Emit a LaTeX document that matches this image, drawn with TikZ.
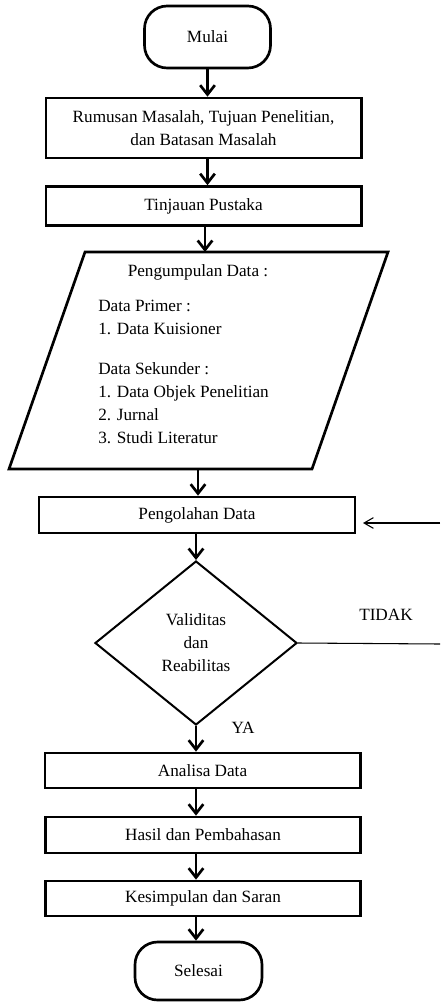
\documentclass[tikz,border=0pt]{standalone}
\usepackage{fontspec}
\setmainfont{Liberation Serif}
\usetikzlibrary{shapes.geometric}
\usetikzlibrary{arrows.meta}

\begin{document}
\begin{tikzpicture}[x=0.75pt,y=-0.75pt,
font=\fontsize{12.9}{17.2}\selectfont,
proses/.style={draw, line width=2pt, minimum width=236.5pt, inner sep=0pt, align=center},
terminal/.style={draw, line width=2pt, rounded corners=17pt, inner sep=0pt},
keputusan/.style={draw, diamond, line width=1.5pt, minimum width=151.5pt, minimum height=123pt, inner sep=0pt, align=center},
alur/.style={-{Straight Barb[length=7pt,width=11pt]}, line width=2pt},
balik/.style={-{Straight Barb[length=7pt,width=8pt]}, line width=0.8pt}]
\useasboundingbox (0,0) rectangle (440,1002);

\node[terminal, minimum width=94.5pt, minimum height=46.5pt] (mulai) at (207.5,37) {Mulai};
\node[proses, minimum height=45pt] (rumusan) at (203.5,128) {Rumusan Masalah, Tujuan Penelitian,\\dan Batasan Masalah};
\node[proses, minimum height=29.25pt] (tinjauan) at (203.5,206) {Tinjauan Pustaka};

% input data
\draw[line width=2pt] (85,252) -- (388,252) -- (312,469) -- (9,469) -- cycle;
\coordinate (patas) at (205,252);
\coordinate (pbawah) at (198,469);
\node (pengumpulan) at (198,272) {Pengumpulan Data :};
\node[align=left, anchor=north west, inner sep=0pt] (sumber) at (98,300) {Data Primer :\\1. Data Kuisioner\\[12.75pt]Data Sekunder :\\1. Data Objek Penelitian\\2. Jurnal\\3. Studi Literatur};

\node[proses, minimum width=237pt, minimum height=27pt] (pengolahan) at (197,515) {Pengolahan Data};
\node[keputusan] (validitas) at (196,643) {Validitas\\dan\\Reabilitas};
\node[proses, minimum height=26.25pt] (analisa) at (202.5,770.5) {Analisa Data};
\node[proses, minimum height=27pt] (hasil) at (203,835) {Hasil dan Pembahasan};
\node[proses, minimum height=26.25pt] (kesimpulan) at (203,898.5) {Kesimpulan dan Saran};
\node[terminal, minimum width=95.25pt, minimum height=43.5pt] (selesai) at (198.5,971) {Selesai};

\draw[alur] (mulai) -- (mulai |- rumusan.north);
\draw[alur] (mulai |- rumusan.south) -- (mulai |- tinjauan.north);
\draw[alur] (patas |- tinjauan.south) -- (patas);
\draw[alur] (pbawah) -- (pbawah |- pengolahan.north);
\draw[alur] (pengolahan.south -| validitas.north) -- (validitas.north);
\draw[alur] (validitas.south) -- (validitas.south |- analisa.north);
\draw[alur] (analisa.south -| validitas) -- (validitas |- hasil.north);
\draw[alur] (hasil.south -| validitas) -- (validitas |- kesimpulan.north);
\draw[alur] (kesimpulan.south -| validitas) -- (validitas |- selesai.north);

% tidak valid, kembali
\coordinate (ujung) at (440,644);
\coordinate (kembali) at (440,523);
\draw[line width=0.8pt] (validitas.east) -- (ujung);
\draw[balik, shorten >=5pt] (kembali) -- (kembali -| pengolahan.east);
\node (tidak) at (386,615) {TIDAK};
\node (ya) at (243,728) {YA};
\end{tikzpicture}
\end{document}
